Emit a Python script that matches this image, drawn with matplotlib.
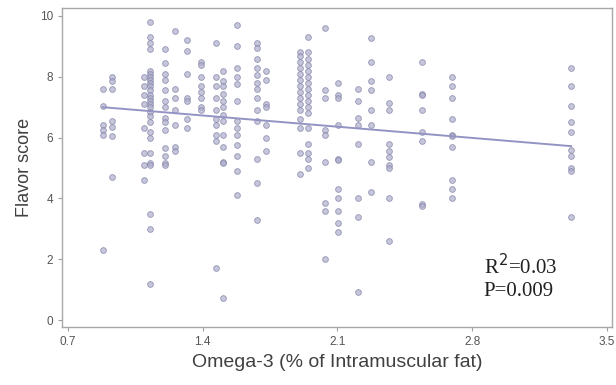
import matplotlib.pyplot as plt

# columns of points: omega-3 value, then the flavor scores read at that value
omega3_cols = [0.882, 0.929, 1.095, 1.126, 1.204, 1.256, 1.318, 1.391, 1.469,
               1.505, 1.578, 1.682, 1.729, 1.905, 1.947, 2.035, 2.103, 2.206,
               2.274, 2.368, 2.539, 2.695, 3.313]
flavor_cols = [
    [7.6, 7.05, 6.4, 6.25, 6.1, 2.3],
    [8.0, 7.85, 7.6, 6.55, 6.35, 6.05, 4.7],
    [8.0, 7.7, 7.4, 7.1, 6.3, 5.5, 5.1, 4.6],
    [9.8, 9.3, 9.1, 8.9, 8.2, 8.1, 8.0, 7.9, 7.8, 7.7, 7.55, 7.4, 7.3, 7.2,
     7.1, 7.0, 6.85, 6.7, 6.5, 6.2, 6.0, 5.5, 5.15, 5.1, 3.5, 3.0, 1.2],
    [8.9, 8.45, 8.1, 7.9, 7.55, 7.2, 7.0, 6.65, 6.5, 6.25, 5.65, 5.4, 5.15, 5.1],
    [9.5, 7.6, 7.3, 6.9, 6.4, 5.7, 5.55],
    [9.2, 8.85, 8.1, 7.3, 7.2, 6.6, 6.3],
    [8.5, 8.4, 8.0, 7.7, 7.5, 7.3, 7.0, 6.9],
    [9.1, 8.0, 7.7, 7.3, 6.9, 6.6, 6.4, 6.1, 5.9, 1.7],
    [8.2, 7.85, 7.7, 7.45, 7.2, 7.0, 6.75, 6.55, 6.1, 5.7, 5.2, 5.15, 0.72],
    [9.7, 9.0, 8.3, 8.0, 7.75, 7.2, 6.55, 6.3, 6.1, 5.75, 5.4, 4.9, 4.1],
    [9.1, 8.95, 8.6, 8.3, 8.05, 7.8, 7.6, 7.3, 6.9, 6.55, 5.3, 4.5, 3.3],
    [8.2, 7.9, 7.1, 7.0, 6.4, 6.0, 5.55],
    [8.8, 8.7, 8.5, 8.3, 8.1, 7.9, 7.7, 7.5, 7.3, 7.1, 6.9, 6.6, 6.3, 5.5, 4.8],
    [9.3, 8.8, 8.6, 8.4, 8.2, 8.0, 7.8, 7.6, 7.4, 7.2, 7.0, 6.8, 6.3, 5.8,
     5.5, 5.3, 5.0],
    [9.6, 7.55, 7.3, 6.25, 6.1, 5.2, 3.85, 3.6, 2.0],
    [7.8, 7.4, 7.3, 6.4, 5.3, 5.25, 4.3, 4.0, 3.6, 3.2, 2.9],
    [7.6, 7.2, 6.65, 6.4, 5.8, 4.0, 3.4, 0.92],
    [9.28, 8.5, 7.85, 7.55, 6.9, 6.4, 5.2, 4.2],
    [8.0, 7.15, 6.9, 5.8, 5.55, 5.35, 5.1, 5.0, 4.0, 2.6],
    [8.5, 7.45, 7.4, 6.9, 6.2, 5.9, 3.8, 3.75],
    [8.0, 7.7, 7.3, 6.6, 6.1, 6.05, 5.7, 4.6, 4.3, 4.0],
    [8.3, 7.7, 7.05, 6.5, 6.2, 5.6, 5.4, 5.0, 4.9, 3.4],
]

# fitted line
fit_intercept = 7.465
fit_slope = -0.527
fit_xrange = [0.882, 3.313]

xticks = [0.7, 1.4, 2.1, 2.8, 3.5]
yticks = [0, 2, 4, 6, 8, 10]

x = []
y = []
for cx, ys in zip(omega3_cols, flavor_cols):
    for v in ys:
        x.append(cx)
        y.append(v)

fig = plt.figure(figsize=(6.16, 3.85), dpi=100)
ax = fig.add_axes([0.1006, 0.1506, 0.893, 0.8284])

ax.scatter(x, y, s=17, facecolor='#b0b0cc', edgecolor='#8080a8',
           linewidths=0.7, alpha=0.7, zorder=2)
fy = [fit_intercept + fit_slope * v for v in fit_xrange]
ax.plot(fit_xrange, fy, color='#9494c4', lw=1.4, zorder=3)

ax.set_xlim(0.669, 3.526)
ax.set_ylim(-0.23, 10.26)
ax.set_xticks(xticks)
ax.set_xticklabels([str(t) for t in xticks])
ax.set_yticks(yticks)
for s in ax.spines.values():
    s.set_color('#a8a8a8')
    s.set_linewidth(1.0)
ax.tick_params(colors='#a0a0a0', labelcolor='#555555', labelsize=8.5,
               length=3, width=0.8, labelfontfamily='Liberation Sans')

ax.set_xlabel('Omega-3 (% of Intramuscular fat)', fontsize=14,
              family='Liberation Sans', color='#404040', labelpad=4)
ax.set_ylabel('Flavor score', fontsize=13, family='Liberation Sans',
              color='#404040', labelpad=5)

ax.text(2.86, 1.4, 'R$^2$=0.03\nP=0.009', fontsize=15, family='Liberation Serif',
        color='#202020', linespacing=1.15, va='center')

fig.savefig('out.png', dpi=100)
